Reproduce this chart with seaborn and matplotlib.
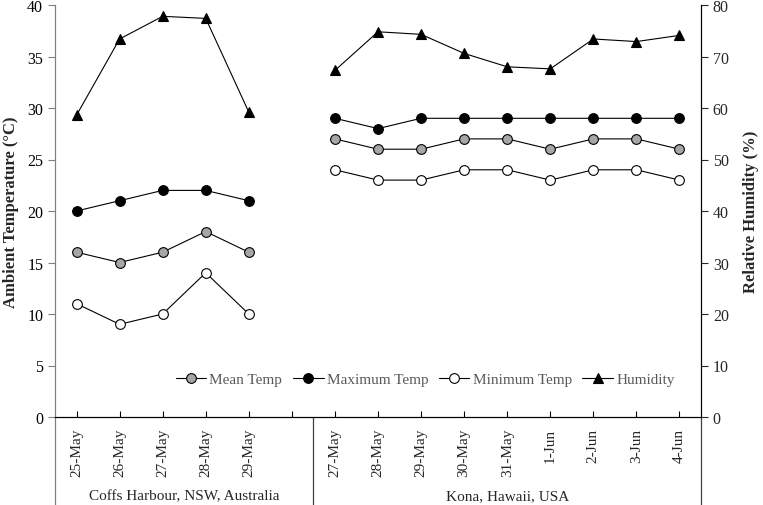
import matplotlib.pyplot as plt
import matplotlib.transforms as mtransforms
from matplotlib.lines import Line2D
import seaborn as sns
import pandas as pd

# categories: Coffs Harbour slots (incl. one empty), then Kona
dates = ["25-May", "26-May", "27-May", "28-May", "29-May", "",
         "27-May", "28-May", "29-May", "30-May", "31-May", "1-Jun", "2-Jun", "3-Jun", "4-Jun"]
sites = ["Coffs Harbour, NSW, Australia", "Kona, Hawaii, USA"]
site_slots = [6, 9]

coffs_mean = [16, 15, 16, 18, 16]
coffs_max = [20, 21, 22, 22, 21]
coffs_min = [11, 9, 10, 14, 10]
coffs_hum = [58.6, 73.4, 77.8, 77.4, 59.2]

kona_mean = [27, 26, 26, 27, 27, 26, 27, 27, 26]
kona_max = [29, 28, 29, 29, 29, 29, 29, 29, 29]
kona_min = [24, 23, 23, 24, 24, 23, 24, 24, 23]
kona_hum = [67.3, 74.8, 74.3, 70.6, 68.0, 67.6, 73.4, 72.9, 74.1]

series = {
    "Mean Temp": (coffs_mean, kona_mean),
    "Maximum Temp": (coffs_max, kona_max),
    "Minimum Temp": (coffs_min, kona_min),
    "Humidity": (coffs_hum, kona_hum),
}
face = {"Mean Temp": "#a6a6a6", "Maximum Temp": "black", "Minimum Temp": "white", "Humidity": "black"}
mark = {"Mean Temp": "o", "Maximum Temp": "o", "Minimum Temp": "o", "Humidity": "^"}

rows = []
for name, (c, k) in series.items():
    for i, v in enumerate(c):
        rows.append({"series": name, "site": sites[0], "pos": i, "value": v})
    for i, v in enumerate(k):
        rows.append({"series": name, "site": sites[1], "pos": site_slots[0] + i, "value": v})
df = pd.DataFrame(rows)

sns.set_style("ticks")
plt.rcParams["font.family"] = ["Liberation Serif", "DejaVu Serif"]

fig = plt.figure(figsize=(7.63, 5.06), dpi=100)
ax = fig.add_axes([55 / 763, 88 / 506, 646 / 763, 412 / 506])
ax2 = ax.twinx()

for name in series:
    target = ax2 if name == "Humidity" else ax
    sns.lineplot(data=df[df.series == name], x="pos", y="value", units="site", estimator=None,
                 ax=target, color="black", lw=0.8, marker=mark[name], markersize=7,
                 markerfacecolor=face[name], markeredgecolor="black", markeredgewidth=0.8)

n = len(dates)
ax.set_xlim(-0.5, n - 0.5)
ax.set_ylim(0, 40)
ax2.set_ylim(0, 80)
ax.set_yticks(range(0, 41, 5))
ax2.set_yticks(range(0, 81, 10))
ax.set_xticks(range(n))
ax.set_xticklabels(dates, rotation=90, fontsize=11)
ax.tick_params(axis="x", direction="in", length=4, pad=8, color="black")
ax.tick_params(axis="y", direction="out", length=5, labelsize=11.5, colors="black")
ax.tick_params(axis="y", color="#808080")
ax2.tick_params(axis="y", direction="out", length=5, labelsize=11.5)
ax.set_xlabel("")
ax.set_ylabel("Ambient Temperature (\u00b0C)", fontsize=12, fontweight="bold", labelpad=6)
ax2.set_ylabel("Relative Humidity (%)", fontsize=12, fontweight="bold", labelpad=10)

for a in (ax, ax2):
    a.spines["top"].set_visible(False)
    a.spines["left"].set_color("#808080")
    a.spines["right"].set_color("black")
    a.spines["bottom"].set_color("black")
    a.spines["bottom"].set_zorder(5)

# group separators and labels under the axis
trans = mtransforms.blended_transform_factory(ax.transData, ax.transAxes)
for xpos, col in [(-0.5, "#808080"), (site_slots[0] - 0.5, "#404040"), (n - 0.5, "#404040")]:
    ax.plot([xpos, xpos], [0, -0.215], transform=trans, color=col, lw=0.9, clip_on=False)
start = 0
for site, slots in zip(sites, site_slots):
    ax.text(start - 0.5 + slots / 2, -0.19, site, transform=trans, ha="center", va="center", fontsize=11)
    start += slots

handles = [Line2D([], [], color="black", lw=0.8, marker=mark[s], markersize=7,
                  markerfacecolor=face[s], markeredgecolor="black", markeredgewidth=0.8)
           for s in series]
leg = ax.legend(handles, list(series), loc="center", bbox_to_anchor=(0.573, 0.092), ncol=4,
                frameon=False, fontsize=11, handlelength=2.0, handletextpad=0.2, columnspacing=0.7,
                labelcolor="#595959")

fig.savefig("out.png", dpi=100)
